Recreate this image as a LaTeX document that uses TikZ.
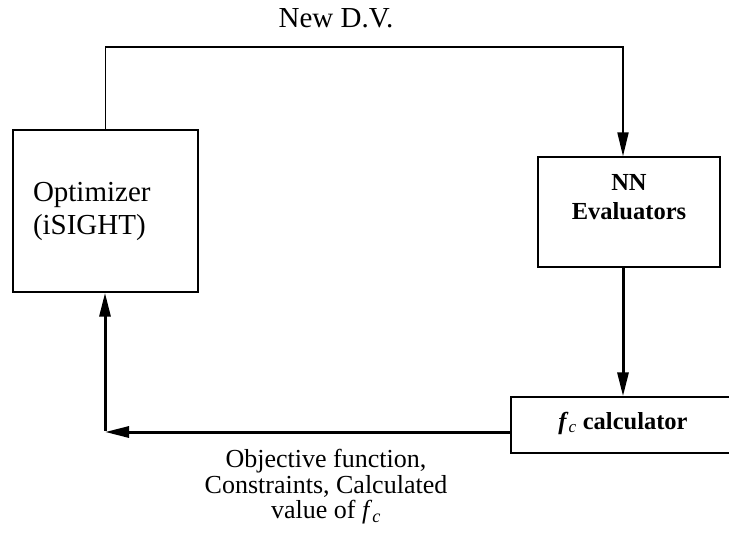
\documentclass[tikz,border=0pt]{standalone}
\usepackage{fontspec}
\setmainfont{Liberation Serif}
\usetikzlibrary{arrows.meta}
\begin{document}
\begin{tikzpicture}[x=1pt,y=-1pt,
  box/.style={draw,line width=1.4pt,inner sep=0pt},
  thinline/.style={line width=1.4pt},
  flow/.style={line width=3pt,-{Triangle[length=24pt,width=11pt]}},
  flowthin/.style={line width=2pt,-{Triangle[length=24pt,width=11pt]}},
  bigtext/.style={font=\fontsize{29}{33}\selectfont},
  boldtext/.style={font=\fontsize{24.5}{29}\selectfont\bfseries},
  midtext/.style={font=\fontsize{26}{25.5}\selectfont}]
\useasboundingbox (0,0) rectangle (729,536);
% boxes
\node[box,minimum width=185pt,minimum height=162pt,text width=145pt,inner xsep=20pt,align=left,bigtext] (opt) at (105.5,211) {Optimizer\\(iSIGHT)};
\node[box,minimum width=182pt,minimum height=110pt] (nn) at (629,212) {};
\node[boldtext,align=center] (nnlabel) at (629,197.5) {NN\\Evaluators};
\node[box,minimum width=220pt,minimum height=56pt,boldtext] (fc) at (621,425) {};
\node[boldtext] (fclabel) at (623,423) {\textit{f}\textsubscript{\normalfont\itshape c} calculator};
% texts
\node[bigtext] (newdv) at (336,18) {New D.V.};
\node[midtext,align=center] (ret) at (326,487) {Objective function,\\Constraints, Calculated\\value of \textit{f}\textsubscript{\textit{c}}};
% corner coordinates
\coordinate (tr) at (623,47);
\coordinate (bl) at (105,432);
% connectors
\draw[thinline] (opt.north) |- ([xshift=0.7pt]tr);
\draw[flowthin] (tr) -- (tr |- nn.north);
\draw[flow] (tr |- nn.south) -- (tr |- fc.north);
\draw[flow] (fc.west |- bl) -- (bl);
\draw[flow] ([yshift=1.5pt]bl) -- (bl |- opt.south);
\end{tikzpicture}
\end{document}
